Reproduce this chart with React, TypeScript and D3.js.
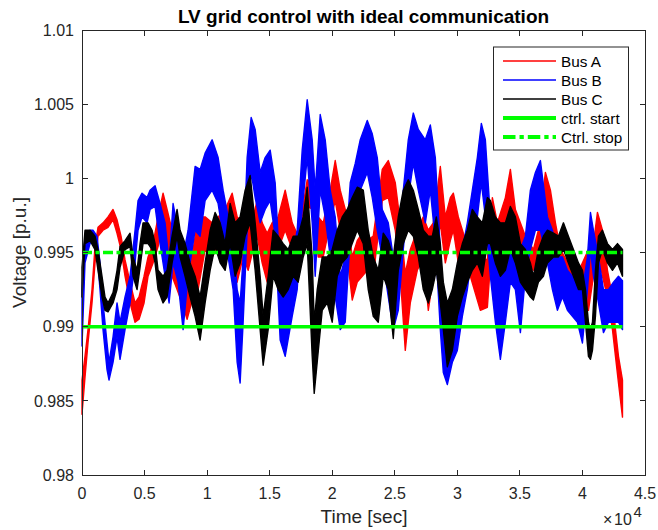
import React from 'react';
import * as d3 from 'd3';

// ---------- data ----------
const xTicks = [0, 5000, 10000, 15000, 20000, 25000, 30000, 35000, 40000, 45000];
const xTickLabels = ['0', '0.5', '1', '1.5', '2', '2.5', '3', '3.5', '4', '4.5'];
const yTicks = [0.98, 0.985, 0.99, 0.995, 1, 1.005, 1.01];
const yTickLabels = ['0.98', '0.985', '0.99', '0.995', '1', '1.005', '1.01'];

const ctrlTime = [0, 43200];
const ctrlStart = 0.99;
const ctrlStop = 0.995;

// [time (s), lower envelope (p.u.), upper envelope (p.u.)]
const busA: [number, number, number][] = [
  [0, 0.9841, 0.9864], [240, 0.9866, 0.988], [480, 0.9889, 0.9898], [800, 0.9916, 0.9925],
  [1040, 0.9943, 0.9954], [1280, 0.9961, 0.9967], [1680, 0.9965, 0.997], [2080, 0.9967, 0.9974],
  [2480, 0.9972, 0.9979], [2800, 0.9963, 0.9972], [3120, 0.9952, 0.9961], [3440, 0.9934, 0.9945],
  [3840, 0.9916, 0.993], [4240, 0.9903, 0.9916], [4560, 0.9905, 0.992], [4960, 0.9916, 0.9934],
  [5280, 0.9934, 0.9947], [5680, 0.9943, 0.9956], [6080, 0.9954, 0.9974], [6480, 0.997, 0.999],
  [6800, 0.9956, 0.9979], [7200, 0.9934, 0.9965], [7600, 0.9925, 0.9961], [8000, 0.9916, 0.9947],
  [8400, 0.9905, 0.9934], [8880, 0.992, 0.9952], [9280, 0.9925, 0.9974], [9840, 0.9952, 0.9974],
  [10400, 0.9947, 0.997], [10880, 0.9954, 0.9974], [11440, 0.9961, 0.9979], [12000, 0.997, 0.999],
  [12400, 0.993, 0.9974], [12880, 0.9947, 0.997], [13280, 0.9938, 0.9965], [13680, 0.9952, 0.9974],
  [14000, 0.9961, 0.9985], [14400, 0.9943, 0.997], [14800, 0.993, 0.9963], [15200, 0.9943, 0.997],
  [15680, 0.9952, 0.9974], [16240, 0.9965, 0.9992], [16800, 0.9952, 0.997], [17280, 0.9947, 0.9961],
  [18000, 0.9981, 0.9999], [18480, 0.9979, 0.9997], [18880, 0.9947, 0.9974], [19280, 0.9947, 0.997],
  [19840, 0.997, 0.9992], [20240, 0.9985, 1.0012], [20640, 0.9965, 0.9992], [21200, 0.9947, 0.9974],
  [21600, 0.9918, 0.9947], [22000, 0.993, 0.9958], [22400, 0.9934, 0.9963], [22800, 0.9938, 0.9958],
  [23280, 0.9934, 0.9961], [24000, 0.9985, 1.0006], [24480, 0.9987, 1.0012], [25040, 0.9965, 0.9997],
  [25440, 0.9934, 0.997], [25840, 0.9884, 0.9936], [26240, 0.9916, 0.9952], [26800, 0.9938, 0.9965],
  [27280, 0.9947, 0.9974], [27680, 0.9911, 0.9965], [28080, 0.9934, 0.997], [28640, 0.997, 1.0008],
  [29040, 0.9943, 0.9974], [29440, 0.9958, 0.9987], [29680, 0.9965, 0.999], [30080, 0.9943, 0.9974],
  [30480, 0.9943, 0.9963], [31040, 0.9934, 0.9952], [31840, 0.9911, 0.9947], [32400, 0.9913, 0.9945],
  [32800, 0.9961, 0.9987], [33200, 0.9947, 0.997], [33840, 0.9961, 0.9987], [34240, 0.9979, 1.0006],
  [34640, 0.9956, 0.9979], [35440, 0.9943, 0.9961], [36080, 0.9938, 0.9952], [36480, 0.9947, 0.9965],
  [37040, 0.997, 1.0004], [37440, 0.9965, 0.9992], [37840, 0.9943, 0.997], [38240, 0.992, 0.9952],
  [39040, 0.992, 0.994], [39840, 0.992, 0.994], [40480, 0.9911, 0.9952], [40880, 0.9934, 0.9956],
  [41200, 0.9952, 0.9977], [41600, 0.9934, 0.9965], [42000, 0.992, 0.9938], [42400, 0.9898, 0.992],
  [42640, 0.988, 0.9898], [42880, 0.9862, 0.988], [43200, 0.9839, 0.9864],
];

const busB: [number, number, number][] = [
  [0, 0.9887, 0.9925], [240, 0.9943, 0.9961], [640, 0.9956, 0.9965], [880, 0.9958, 0.9965],
  [1200, 0.995, 0.9961], [1440, 0.9925, 0.9943], [1680, 0.9898, 0.9916], [2000, 0.9871, 0.9889],
  [2160, 0.9864, 0.9876], [2480, 0.9876, 0.9893], [2800, 0.9893, 0.9916], [3040, 0.9878, 0.9903],
  [3440, 0.9898, 0.992], [3840, 0.9916, 0.9934], [4240, 0.9943, 0.9965], [4480, 0.9965, 0.9985],
  [4800, 0.9974, 0.999], [5200, 0.997, 0.9987], [5440, 0.9979, 0.9992], [5840, 0.9981, 0.9995],
  [6240, 0.9956, 0.9983], [6640, 0.9934, 0.997], [6960, 0.9916, 0.9943], [7280, 0.9943, 0.9983],
  [7680, 0.993, 0.9965], [8080, 0.9898, 0.9947], [8480, 0.9934, 0.9965], [9040, 0.9965, 1.0008],
  [9440, 0.9961, 1.0006], [9840, 0.9985, 1.0017], [10400, 0.9992, 1.0026], [10880, 0.9983, 1.0014],
  [11280, 0.9961, 0.9992], [11680, 0.9947, 0.9974], [12080, 0.9925, 0.9961], [12400, 0.9876, 0.9925],
  [12640, 0.9862, 0.9916], [12880, 0.9903, 0.9947], [13200, 0.9965, 1.0014], [13520, 1.0004, 1.0041],
  [13840, 0.9987, 1.0033], [14240, 0.997, 1.0004], [14640, 0.9979, 1.0014], [15040, 0.9985, 1.0019],
  [15440, 0.9961, 0.9997], [15840, 0.9891, 0.9934], [16240, 0.988, 0.9934], [16800, 0.9907, 0.9947],
  [17200, 0.9925, 0.9965], [17600, 0.9979, 1.0019], [18000, 1.0014, 1.0053], [18400, 0.997, 1.0026],
  [18640, 0.9934, 0.9992], [19040, 0.9992, 1.0043], [19440, 0.9974, 1.0026], [19840, 0.9947, 0.9992],
  [20240, 0.992, 0.9974], [20640, 0.9898, 0.9934], [21040, 0.9903, 0.9947], [21440, 0.9961, 0.9997],
  [21840, 0.9979, 1.001], [22240, 0.9992, 1.0026], [22800, 1.0004, 1.0039], [23200, 0.9987, 1.003],
  [23600, 0.9965, 1.0014], [24000, 0.9947, 0.9979], [24480, 0.992, 0.997], [24880, 0.9898, 0.9947],
  [25280, 0.9911, 0.9952], [25680, 0.9952, 0.9992], [26080, 0.9987, 1.0026], [26480, 1.001, 1.0044],
  [26880, 0.9992, 1.0033], [27440, 0.997, 1.0026], [27840, 0.9992, 1.0036], [28240, 0.9958, 1.0014],
  [28640, 0.9898, 0.9952], [28880, 0.9869, 0.9913], [29200, 0.9861, 0.9898], [29600, 0.9876, 0.9916],
  [30000, 0.9884, 0.9934], [30400, 0.9907, 0.9952], [30800, 0.9925, 0.997], [31200, 0.9952, 0.9992],
  [31600, 0.9974, 1.0014], [31920, 0.9997, 1.0037], [32240, 0.9974, 1.0026], [32640, 0.9934, 0.9974],
  [33040, 0.9903, 0.9947], [33440, 0.9878, 0.9934], [33840, 0.9903, 0.9947], [34240, 0.993, 0.9965],
  [34640, 0.9925, 0.9961], [35040, 0.9896, 0.9952], [35440, 0.9934, 0.9961], [35840, 0.9952, 0.9992],
  [36240, 0.9965, 1.0004], [36640, 0.9965, 1.0012], [37200, 0.9943, 0.9974], [37600, 0.9925, 0.9965],
  [38000, 0.9911, 0.9947], [38400, 0.992, 0.9947], [38800, 0.9911, 0.9938], [39200, 0.9907, 0.9934],
  [39600, 0.9903, 0.9934], [40000, 0.9889, 0.9925], [40400, 0.9925, 0.9947], [40640, 0.9952, 0.9977],
  [40880, 0.9934, 0.9965], [41280, 0.9916, 0.9947], [41680, 0.9896, 0.9925], [42080, 0.9903, 0.9925],
  [42480, 0.9903, 0.993], [42880, 0.9903, 0.9934], [43200, 0.9898, 0.9931],
];

const busC: [number, number, number][] = [
  [0, 0.992, 0.994], [240, 0.9956, 0.9965], [640, 0.9958, 0.9965], [1040, 0.9952, 0.9961],
  [1280, 0.9938, 0.9952], [1600, 0.992, 0.9934], [1840, 0.9911, 0.992], [2080, 0.991, 0.9916],
  [2480, 0.9916, 0.9923], [2800, 0.9925, 0.9938], [3040, 0.994, 0.9954], [3440, 0.9952, 0.9958],
  [3840, 0.9954, 0.9963], [4080, 0.9934, 0.9947], [4400, 0.9925, 0.9938], [4640, 0.994, 0.9956],
  [4880, 0.9956, 0.997], [5280, 0.9956, 0.997], [5600, 0.9952, 0.9965], [5840, 0.9943, 0.9956],
  [6080, 0.9925, 0.9938], [6480, 0.9916, 0.9934], [6800, 0.992, 0.9938], [7200, 0.9943, 0.9961],
  [7600, 0.9961, 0.9979], [7840, 0.9947, 0.9965], [8240, 0.9934, 0.9956], [8640, 0.992, 0.9943],
  [9040, 0.9907, 0.9934], [9440, 0.9891, 0.992], [9840, 0.9916, 0.9943], [10240, 0.9938, 0.9965],
  [10640, 0.9954, 0.9977], [11040, 0.9943, 0.997], [11440, 0.9938, 0.9956], [11840, 0.9956, 0.9983],
  [12240, 0.9934, 0.997], [12640, 0.9943, 0.9974], [13040, 0.9961, 0.9992], [13440, 0.997, 1.0002],
  [13840, 0.9938, 0.997], [14240, 0.9898, 0.9934], [14480, 0.9874, 0.9907], [14880, 0.9898, 0.9934],
  [15280, 0.9934, 0.9965], [15680, 0.9925, 0.9961], [16080, 0.992, 0.9956], [16480, 0.9925, 0.9952],
  [16880, 0.9934, 0.9961], [17280, 0.993, 0.9961], [17680, 0.9947, 0.9974], [18000, 0.9956, 0.9994],
  [18400, 0.988, 0.9947], [18560, 0.9855, 0.9903], [18800, 0.9876, 0.9925], [19200, 0.9911, 0.9947],
  [19600, 0.9916, 0.9947], [20000, 0.9903, 0.9952], [20400, 0.9934, 0.9965], [20800, 0.9943, 0.9974],
  [21200, 0.9947, 0.9979], [21600, 0.9956, 0.9987], [22000, 0.9965, 0.9994], [22480, 0.9956, 0.9992],
  [22880, 0.9925, 0.9965], [23280, 0.9907, 0.9947], [23680, 0.9903, 0.9938], [24080, 0.9934, 0.9963],
  [24480, 0.9925, 0.9958], [24880, 0.9892, 0.9947], [25280, 0.9938, 0.9974], [25680, 0.9956, 0.9992],
  [26080, 0.9965, 0.9999], [26480, 0.9961, 0.9992], [26880, 0.9947, 0.9979], [27280, 0.9925, 0.9965],
  [27680, 0.9916, 0.9961], [28000, 0.9925, 0.9961], [28320, 0.9938, 0.9974], [28640, 0.9916, 0.9956],
  [28880, 0.9898, 0.993], [29200, 0.9873, 0.9916], [29600, 0.9884, 0.9925], [30000, 0.9907, 0.9943],
  [30400, 0.992, 0.9956], [30800, 0.993, 0.9965], [31200, 0.9938, 0.9979], [31600, 0.9943, 0.9974],
  [32000, 0.9934, 0.997], [32400, 0.9956, 0.9987], [32640, 0.9956, 0.9985], [33040, 0.9943, 0.9974],
  [33440, 0.9934, 0.997], [33840, 0.9938, 0.997], [34240, 0.9952, 0.9981], [34640, 0.9943, 0.9974],
  [35040, 0.993, 0.9956], [35440, 0.9925, 0.9952], [35840, 0.992, 0.9943], [36080, 0.9918, 0.9934],
  [36480, 0.993, 0.9952], [36880, 0.9934, 0.9961], [37200, 0.9943, 0.9965], [37680, 0.9947, 0.9963],
  [38080, 0.9947, 0.9961], [38480, 0.9952, 0.997], [38880, 0.9943, 0.9961], [39280, 0.9934, 0.9952],
  [39680, 0.9925, 0.9943], [40000, 0.9925, 0.9938], [40240, 0.9903, 0.9925], [40480, 0.988, 0.9903],
  [40640, 0.9878, 0.9898], [40800, 0.9884, 0.9903], [41040, 0.9907, 0.9938], [41280, 0.9943, 0.9961],
  [41600, 0.9952, 0.9965], [42000, 0.9943, 0.9956], [42400, 0.9938, 0.9952], [42800, 0.9943, 0.9956],
  [43200, 0.9934, 0.9952],
];

const seriesNames = ['Bus A', 'Bus B', 'Bus C'];
const seriesColors = ['#ff0000', '#0000ff', '#000000'];
const legendLabels = ['Bus A', 'Bus B', 'Bus C', 'ctrl. start', 'Ctrl. stop'];

// ---------- layout ----------
const W = 658;
const H = 530;
const PL = 82, PR = 645, PT = 30, PB = 475;
const FONT = '"Liberation Sans", Arial, Helvetica, sans-serif';
const AX = '#262626';
const GREEN = '#00ff00';

export default function App() {
  const x = d3.scaleLinear().domain([0, 45000]).range([PL, PR]);
  const y = d3.scaleLinear().domain([0.98, 1.01]).range([PB, PT]);

  const area = d3
    .area<[number, number, number]>()
    .x((d) => x(d[0]))
    .y0((d) => y(d[1]))
    .y1((d) => y(d[2]));

  const allSeries = [busA, busB, busC];
  const hline = (v: number) =>
    d3.line<number>().x((t) => x(t)).y(() => y(v))(ctrlTime) || '';

  const legendRows = legendLabels.map((lab, i) => ({ lab, cy: 61 + i * 19 }));

  return (
    <svg
      width={W}
      height={H}
      style={{ position: 'absolute', left: 0, top: 0, background: '#fff' }}
      fontFamily={FONT}
    >
      <rect x={0} y={0} width={W} height={H} fill="#fff" />
      {/* data */}
      <g>
        {allSeries.map((s, i) => (
          <path
            key={seriesNames[i]}
            d={area(s) || ''}
            fill={seriesColors[i]}
            stroke={seriesColors[i]}
            strokeWidth={1.4}
            strokeLinejoin="round"
          />
        ))}
      </g>
      {/* control thresholds */}
      <path d={hline(ctrlStart)} stroke={GREEN} strokeWidth={3.5} fill="none" />
      <path
        d={hline(ctrlStop)}
        stroke={GREEN}
        strokeWidth={3.5}
        fill="none"
        strokeDasharray="10,3.5,4,3.5"
      />
      {/* axes box */}
      <rect
        x={PL}
        y={PT}
        width={PR - PL}
        height={PB - PT}
        fill="none"
        stroke={AX}
        strokeWidth={1}
        shapeRendering="crispEdges"
      />
      {/* x ticks */}
      {xTicks.map((t, i) => (
        <g key={'xt' + i}>
          <line x1={x(t)} x2={x(t)} y1={PB} y2={PB - 5.5} stroke={AX} shapeRendering="crispEdges" />
          <line x1={x(t)} x2={x(t)} y1={PT} y2={PT + 5.5} stroke={AX} shapeRendering="crispEdges" />
          <text x={x(t)} y={499} textAnchor="middle" fontSize={16} fill={AX}>
            {xTickLabels[i]}
          </text>
        </g>
      ))}
      {/* y ticks */}
      {yTicks.map((v, i) => (
        <g key={'yt' + i}>
          <line x1={PL} x2={PL + 5.5} y1={y(v)} y2={y(v)} stroke={AX} shapeRendering="crispEdges" />
          <line x1={PR} x2={PR - 5.5} y1={y(v)} y2={y(v)} stroke={AX} shapeRendering="crispEdges" />
          <text x={74} y={y(v) + 5.7} textAnchor="end" fontSize={16} fill={AX}>
            {yTickLabels[i]}
          </text>
        </g>
      ))}
      {/* exponent */}
      <text x={603} y={525} fontSize={16} fill={AX}>×</text>
      <text x={614} y={525} fontSize={16} fill={AX}>10</text>
      <text x={633.5} y={517} fontSize={15} fill={AX}>4</text>
      {/* labels */}
      <text x={364} y={523} textAnchor="middle" fontSize={19} fill={AX}>
        Time [sec]
      </text>
      <text
        transform={`translate(26,${(PT + PB) / 2}) rotate(-90)`}
        textAnchor="middle"
        fontSize={19}
        fill={AX}
      >
        Voltage [p.u.]
      </text>
      <text x={(PL + PR) / 2} y={23} textAnchor="middle" fontSize={19} fontWeight="bold" fill="#000">
        LV grid control with ideal communication
      </text>
      {/* legend */}
      <g>
        <rect x={493.5} y={47} width={135} height={103} fill="#fff" stroke={AX} strokeWidth={1} />
        {legendRows.map((r, i) => {
          const isGreen = i >= 3;
          return (
            <g key={'lg' + i}>
              <line
                x1={503}
                x2={556}
                y1={r.cy}
                y2={r.cy}
                stroke={isGreen ? GREEN : seriesColors[i]}
                strokeWidth={isGreen ? 4 : 1.5}
                strokeDasharray={i === 4 ? '12.5,4,4.3,4' : undefined}
              />
              <text x={561} y={r.cy + 5.5} fontSize={15.3} fill="#000">
                {r.lab}
              </text>
            </g>
          );
        })}
      </g>
    </svg>
  );
}
